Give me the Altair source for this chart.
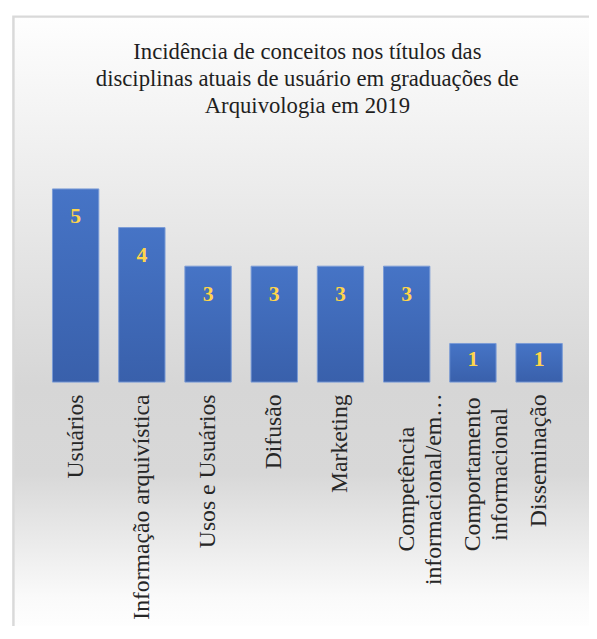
import altair as alt
import pandas as pd

categories = [
    "Usuários",
    "Informação arquivística",
    "Usos e Usuários",
    "Difusão",
    "Marketing",
    "Competência|informacional/em…",
    "Comportamento|informacional",
    "Disseminação",
]
values = [5, 4, 3, 3, 3, 3, 1, 1]
title_lines = [
    "Incidência de conceitos nos títulos das",
    "disciplinas atuais de usuário em graduações de",
    "Arquivologia em 2019",
]

df = pd.DataFrame({"cat": categories, "v": values})

W, H = 537, 235
serif = "Liberation Serif"

bg_grad = alt.Gradient(
    gradient="linear", x1=0, x2=0, y1=0, y2=1,
    stops=[
        alt.GradientStop(color="#fefefe", offset=0),
        alt.GradientStop(color="#d6d6d6", offset=0.60),
        alt.GradientStop(color="#d8d8d8", offset=0.74),
        alt.GradientStop(color="#fafafa", offset=0.94),
        alt.GradientStop(color="#ffffff", offset=1),
    ],
)
bar_grad = alt.Gradient(
    gradient="linear", x1=0, x2=0, y1=0, y2=1,
    stops=[
        alt.GradientStop(color="#4674c6", offset=0),
        alt.GradientStop(color="#3960ab", offset=1),
    ],
)
shadow_grad = alt.Gradient(
    gradient="linear", x1=0, x2=0, y1=0, y2=1,
    stops=[
        alt.GradientStop(color="rgba(0,0,0,0)", offset=0),
        alt.GradientStop(color="rgba(0,0,0,0.28)", offset=1),
    ],
)

one = pd.DataFrame({"f": [0]})

bg = alt.Chart(one).mark_rect(
    fill=bg_grad, stroke="#d9d9d9", strokeWidth=2.5
).encode(
    x=alt.value(-29.5), x2=alt.value(620), y=alt.value(-135.5), y2=alt.value(491)
)

title = alt.Chart(one).mark_text(
    text=title_lines, font=serif, fontSize=23, color="#1f1f1f",
    lineHeight=27.5, align="center", baseline="alphabetic",
).encode(x=alt.value(W / 2), y=alt.value(-93))

multi = "indexof(datum.value, '|') >= 0"
xenc = alt.X(
    "cat:N", sort=None,
    scale=alt.Scale(paddingInner=0.3, paddingOuter=0.15),
    axis=alt.Axis(
        title=None, labelAngle=270,
        labelAlign={"condition": {"test": multi, "value": "center"}, "value": "right"},
        labelPadding={
            "condition": [
                {"test": "indexof(datum.value, 'Compet') == 0", "value": 108},
                {"test": "indexof(datum.value, 'Comport') == 0", "value": 93},
            ],
            "value": 12,
        },
        labelBaseline="middle",
        labelFont=serif, labelFontSize=24, labelColor="#262626",
        ticks=False, domain=False, labelLimit=400,
        labelOverlap=False, labelLineHeight=28, zindex=1,
        labelExpr="split(datum.value, '|')",
    ),
)
yscale = alt.Scale(domain=[0, 6])

base = alt.Chart(df)

shadow = base.transform_calculate(s="min(datum.v, 1.15)").mark_bar(
    width={"band": 1}, fill=shadow_grad
).encode(x=xenc, y=alt.Y("s:Q", scale=yscale, axis=None))

bars = base.mark_bar(fill=bar_grad, stroke="#7b9bd6", strokeWidth=1).encode(
    x=xenc, y=alt.Y("v:Q", scale=yscale, axis=None)
)

labels = base.mark_text(
    font=serif, fontSize=22, fontWeight="bold", color="#FFD54A",
    baseline="middle", dy=alt.expr("datum.v > 1 ? 28 : 16"),
).encode(x=xenc, y=alt.Y("v:Q", scale=yscale, axis=None), text="v:Q")

chart = alt.layer(bg, title, shadow, bars, labels).properties(
    width=W, height=H, autosize="none",
    padding={"left": 35, "top": 140, "right": 17, "bottom": 243},
).configure_view(stroke=None)

chart.save("out.html", embed_options={"renderer": "svg", "actions": False})
